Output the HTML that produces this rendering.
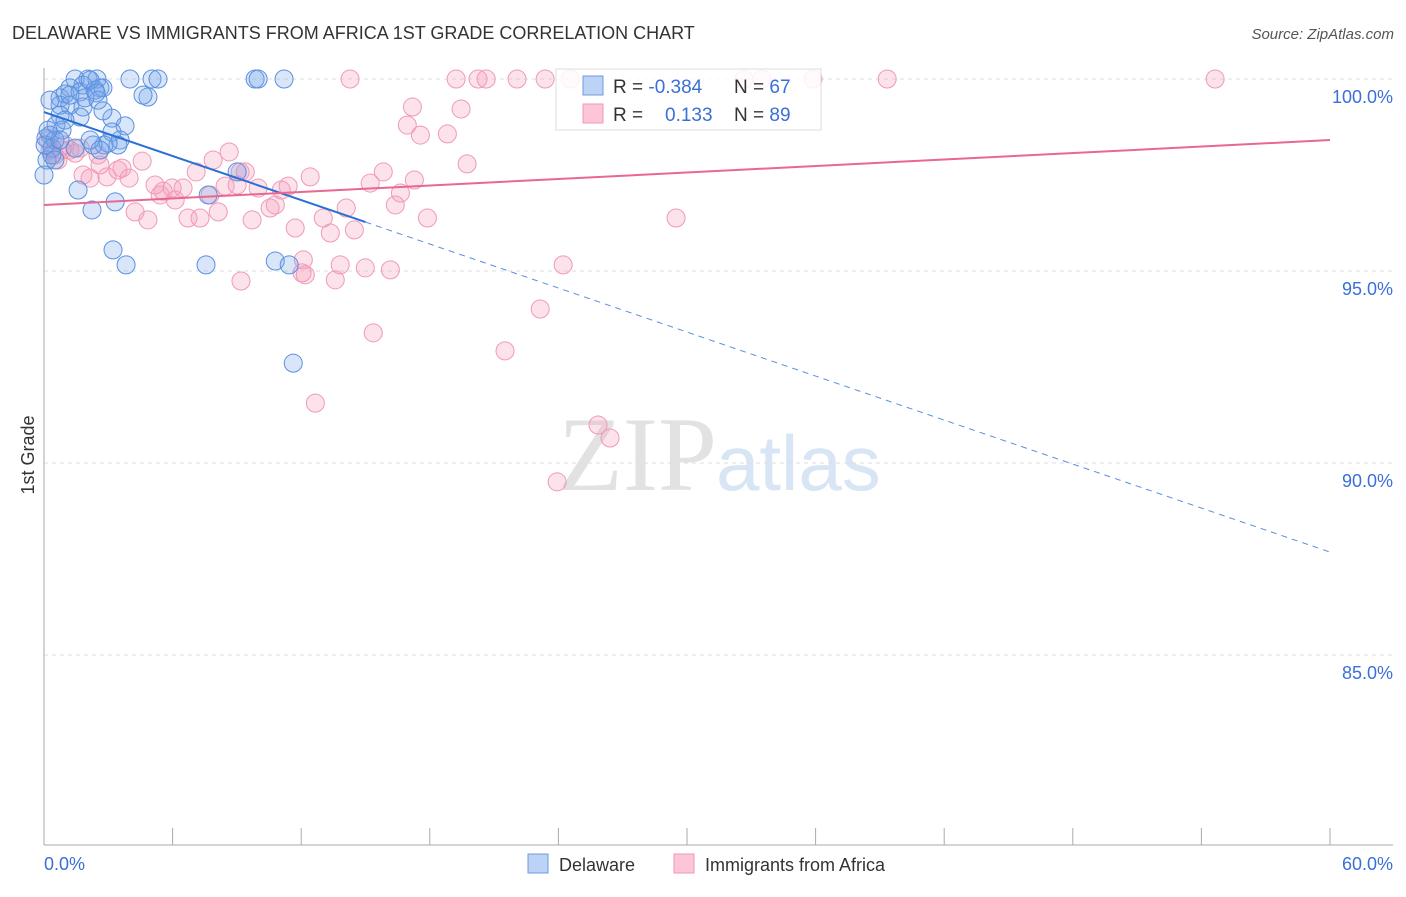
<!DOCTYPE html>
<html><head><meta charset="utf-8"><style>
body{margin:0;background:#fff;font-family:"Liberation Sans",sans-serif}
svg text{font-family:"Liberation Sans",sans-serif}
</style></head><body>
<svg id="c" width="1406" height="892">
<text x="12" y="39" font-size="18" fill="#333">DELAWARE VS IMMIGRANTS FROM AFRICA 1ST GRADE CORRELATION CHART</text>
<text x="1394" y="39" font-size="15" fill="#555" text-anchor="end" font-style="italic">Source: ZipAtlas.com</text>
<text x="558" y="490" font-size="106" fill="#e2e2e2" style="font-family:'Liberation Serif',serif">ZIP</text>
<text x="716" y="490" font-size="78" fill="#d8e5f5">atlas</text>
<g id="grid"></g><g id="marks"></g>
<text transform="translate(34,455) rotate(-90)" font-size="18" fill="#333" text-anchor="middle">1st Grade</text>
<g>
<rect x="556" y="69" width="265" height="61" fill="rgba(255,255,255,0.85)" stroke="#ddd"/>
<rect x="583" y="76" width="20" height="19" fill="#bcd3f5" stroke="#6d9be0"/>
<rect x="583" y="104" width="20" height="19" fill="#fcc6d6" stroke="#ee9ab5"/>
<text x="613" y="93" font-size="19" fill="#333">R = <tspan fill="#3a6fd8">-0.384</tspan></text>
<text x="734" y="93" font-size="19" fill="#333">N = <tspan fill="#3a6fd8">67</tspan></text>
<text x="613" y="121" font-size="19" fill="#333">R = <tspan fill="#3a6fd8" x="665">0.133</tspan></text>
<text x="734" y="121" font-size="19" fill="#333">N = <tspan fill="#3a6fd8">89</tspan></text>
</g>
<g>
<rect x="528" y="854" width="20" height="19" fill="#bcd3f5" stroke="#6d9be0"/>
<text x="559" y="871" font-size="18" fill="#333">Delaware</text>
<rect x="674" y="854" width="20" height="19" fill="#fcc6d6" stroke="#ee9ab5"/>
<text x="705" y="871" font-size="18" fill="#333">Immigrants from Africa</text>
</g>
</svg>
<script>
const yTicks=[100,95,90,85];
const xTickLabels=["0.0%","60.0%"];
const blueX=[1.45,2.05,2.47,4.01,5.04,5.32,9.85,9.99,11.2,1.82,2.61,1.21,0.75,0.98,1.68,2.38,2.75,4.85,4.62,0.75,1.21,1.82,2.52,3.17,3.78,2.75,1.68,0.75,0.56,0.28,0.09,0.37,0.84,3.17,3.55,3.45,2.80,2.99,2.29,1.45,0.14,0,1.59,2.24,3.32,3.22,3.83,7.56,9.01,7.66,10.79,11.44,11.63,0.51,0.28,1.91,0.98,2.15,0.37,2.15,2.43,1.21,0.05,0.51,2.61,0.75,0.19];
const blueY=[100,100,100,100,100,100,100,100,100,99.84,99.77,99.77,99.51,99.61,99.66,99.71,99.77,99.53,99.58,99.32,99.32,99.27,99.45,98.98,98.78,99.17,99.01,99.06,98.80,98.54,98.46,98.20,98.67,98.62,98.41,98.28,98.28,98.33,98.28,98.20,97.89,97.50,97.11,96.59,96.80,95.55,95.16,95.16,97.58,96.98,95.26,95.16,92.60,98.41,99.45,99.51,98.93,98.41,98.02,99.97,99.64,99.58,98.28,97.89,98.15,98.41,98.67];
const pinkX=[0.19,0.28,0.51,0.65,0.84,1.21,1.45,1.68,0.98,1.82,2.15,2.52,2.61,2.94,3.45,3.64,3.97,4.25,4.58,4.85,5.18,5.42,5.56,5.98,6.12,6.49,6.72,7.28,7.10,7.75,7.89,8.13,8.45,8.64,9.01,9.15,9.39,9.71,9.99,10.55,10.79,11.07,11.39,11.72,12.10,12.19,12.42,12.66,13.03,13.36,13.59,13.82,14.10,14.48,14.99,15.22,15.36,15.83,16.16,16.39,16.63,16.95,17.19,17.28,17.56,17.89,18.82,19.46,19.74,21.51,23.15,23.94,24.22,25.85,26.41,29.49,9.19,12.04,14.28,19.23,20.25,20.63,22.07,23.38,24.55,32.66,33.50,35.88,39.34,54.64];
const pinkY=[98.41,98.15,98.02,97.89,98.15,98.15,98.07,98.20,98.28,97.50,97.42,98.02,97.76,97.45,97.63,97.68,97.42,96.54,97.86,96.33,97.24,96.98,97.08,97.16,96.85,97.16,96.38,96.38,97.58,96.98,97.89,96.54,97.21,98.10,97.24,97.58,97.58,96.33,97.16,96.64,96.72,97.11,97.21,96.12,95.29,94.90,97.45,91.56,96.38,95.99,94.77,95.16,96.64,96.07,95.08,97.29,93.39,97.58,95.03,96.72,97.03,98.80,99.27,97.37,98.54,96.38,98.57,99.22,97.79,92.92,94.01,89.51,95.16,90.99,90.65,96.38,94.74,94.95,100,100,100,100,100,100,100,100,100,100,100,100];
const blueTrend=[99.14,87.68];
const pinkTrend=[96.72,98.41];
const X=v=>44+v/60*1286, Y=v=>79+(100-v)/5*192;
const NS="http://www.w3.org/2000/svg";
const grid=document.getElementById('grid'), marks=document.getElementById('marks');
function mk(p,tag,a){const e=document.createElementNS(NS,tag);for(const k in a)e.setAttribute(k,a[k]);p.appendChild(e);return e;}
yTicks.forEach(t=>{
 const l=mk(grid,'line',{x1:44,x2:1393,y1:Y(t),y2:Y(t),stroke:'#ddd','stroke-dasharray':'4,4'});
 
 
 const tx=mk(grid,'text',{x:1393,y:Y(t)+24,'font-size':18,fill:'#3a6fd8','text-anchor':'end'});
 tx.textContent=t.toFixed(1)+'%';
 
 
});
const ax=mk(grid,'line',{x1:44,x2:44,y1:68,y2:845,stroke:'#aaa'});


const bx=mk(grid,'line',{x1:44,x2:1393,y1:845,y2:845,stroke:'#aaa'});


for(let i=0;i<=10;i++){const t=mk(grid,'line',{x1:X(i*6),x2:X(i*6),y1:828,y2:845,stroke:'#aaa'});
 
 }
[[0,'start',44],[60,'end',1393]].forEach((d,i)=>{const t=mk(grid,'text',{x:d[2],y:870,'font-size':18,fill:'#3a6fd8','text-anchor':d[1]});t.textContent=xTickLabels[i];
 
 });
pinkX.forEach((x,i)=>{const c=mk(marks,'circle',{cx:X(x),cy:Y(pinkY[i]),r:9,fill:'rgba(246,160,188,0.3)',stroke:'#f09ab6','stroke-width':1});
 
 });
blueX.forEach((x,i)=>{const c=mk(marks,'circle',{cx:X(x),cy:Y(blueY[i]),r:9,fill:'rgba(120,165,235,0.28)',stroke:'#5a90e0','stroke-width':1});
 
 });
const bAt=x=>blueTrend[0]+(blueTrend[1]-blueTrend[0])*x/60;
const t1=mk(marks,'line',{x1:X(0),y1:Y(bAt(0)),x2:X(15),y2:Y(bAt(15)),stroke:'#2a6fd6','stroke-width':2});


const t2=mk(marks,'line',{x1:X(15),y1:Y(bAt(15)),x2:X(60),y2:Y(bAt(60)),stroke:'#5a8fe0','stroke-width':1,'stroke-dasharray':'6,5'});


const t3=mk(marks,'line',{x1:X(0),y1:Y(pinkTrend[0]),x2:X(60),y2:Y(pinkTrend[1]),stroke:'#e8688f','stroke-width':2});


</script>
</body></html>
